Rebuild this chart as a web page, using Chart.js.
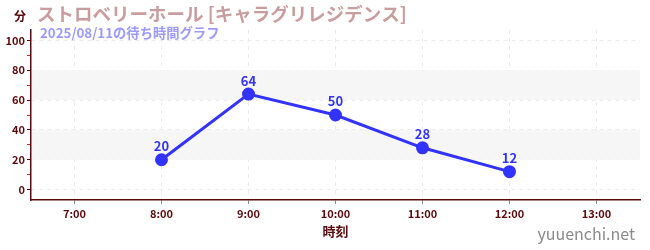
<!DOCTYPE html>
<html>
<head>
<meta charset="utf-8">
<script src="https://cdn.jsdelivr.net/npm/chart.js@4/dist/chart.umd.min.js"></script>
<style>
  html, body { margin: 0; padding: 0; background: #fff; }
  #wrap { width: 650px; height: 250px; position: relative; }
</style>
</head>
<body>
<div id="wrap"><canvas id="miGrafico"></canvas></div>
<script>
// datos del grafico
const horas = [8, 9, 10, 11, 12];
const espera = [20, 64, 50, 28, 12];
const bandas = [[20, 40], [60, 80]];
const titulo = "ストロベリーホール [キャラグリレジデンス]";
const subtitulo = "2025/08/11の待ち時間グラフ";
const unidad = "分";
const ejeX = "時刻";
const marca = "yuuenchi.net";

const fuente = "'Noto Sans CJK JP', 'Noto Sans', sans-serif";
const rojoOscuro = '#5a0a0a';

// fondo con bandas grises + textos extra
const extras = {
  id: 'extras',
  beforeDatasetsDraw(chart) {
    const { ctx, chartArea, scales } = chart;
    ctx.save();
    ctx.fillStyle = '#f6f6f6';
    bandas.forEach(b => {
      const y1 = scales.y.getPixelForValue(b[1]);
      const y0 = scales.y.getPixelForValue(b[0]);
      ctx.fillRect(chartArea.left + 1, y1, chartArea.right - chartArea.left - 1, y0 - y1);
    });
    ctx.restore();
  },
  afterDatasetsDraw(chart) {
    const { ctx } = chart;
    const meta = chart.getDatasetMeta(0);
    ctx.save();
    ctx.fillStyle = '#3333ff';
    ctx.font = 'bold 13px ' + fuente;
    ctx.textAlign = 'center';
    ctx.textBaseline = 'bottom';
    meta.data.forEach((p, i) => {
      ctx.fillText(espera[i], p.x, p.y - 7);
    });
    ctx.restore();
  },
  afterDraw(chart) {
    const { ctx } = chart;
    ctx.save();
    ctx.textBaseline = 'middle';
    ctx.fillStyle = rojoOscuro;
    ctx.font = 'bold 12px ' + fuente;
    ctx.fillText(unidad, 14, 16);
    ctx.fillStyle = '#c99d9d';
    ctx.font = 'bold 18.5px ' + fuente;
    ctx.fillText(titulo, 37, 14);
    ctx.fillStyle = '#9b9bff';
    ctx.font = 'bold 13.3px ' + fuente;
    ctx.fillText(subtitulo, 40, 33);
    ctx.fillStyle = '#8a8a8a';
    ctx.font = '16px ' + fuente;
    ctx.textAlign = 'right';
    ctx.fillText(marca, 635, 234);
    ctx.restore();
  }
};

const ctx = document.getElementById('miGrafico').getContext('2d');
const miGrafico = new Chart(ctx, {
  type: 'line',
  data: {
    datasets: [{
      data: horas.map((h, i) => ({ x: h, y: espera[i] })),
      borderColor: '#3333ff',
      backgroundColor: '#3333ff',
      borderWidth: 3,
      pointRadius: 5,
      pointHoverRadius: 5,
      tension: 0
    }]
  },
  options: {
    responsive: true,
    maintainAspectRatio: false,
    animation: false,
    layout: { padding: { top: 30, right: 10, left: 0, bottom: 0 } },
    plugins: { legend: { display: false }, tooltip: { enabled: false } },
    scales: {
      x: {
        type: 'linear',
        min: 6.5,
        max: 13.5,
        afterBuildTicks(axis) {
          axis.ticks = [7, 8, 9, 10, 11, 12, 13].map(v => ({ value: v }));
        },
        afterFit(axis) { axis.height = 50; },
        border: { color: rojoOscuro, width: 1.5, dash: [4, 4] },
        grid: {
          color: '#ececec',
          tickColor: '#888',
          tickLength: 4,
          tickBorderDash: []
        },
        ticks: {
          color: rojoOscuro,
          font: { family: fuente, size: 11, weight: 'bold' },
          padding: 3,
          maxRotation: 0,
          callback: v => v + ':00'
        },
        title: {
          display: true,
          text: ejeX,
          color: rojoOscuro,
          font: { family: fuente, size: 13, weight: 'bold' },
          padding: { top: 0, bottom: 11 }
        }
      },
      y: {
        min: -7,
        max: 107,
        afterBuildTicks(axis) {
          const t = [];
          for (let v = 0; v <= 100; v += 10) t.push({ value: v });
          axis.ticks = t;
        },
        afterFit(axis) { axis.width = 31; },
        border: { color: rojoOscuro, width: 1.5, dash: [4, 4] },
        grid: {
          color: c => (c.tick && c.tick.value % 20 === 0) ? '#ececec' : 'rgba(0,0,0,0)',
          tickColor: c => (c.tick && c.tick.value % 20 === 0) ? rojoOscuro : '#dd2222',
          tickLength: 4,
          tickBorderDash: []
        },
        ticks: {
          color: rojoOscuro,
          font: { family: fuente, size: 11, weight: 'bold' },
          padding: 2,
          autoSkip: false,
          callback: v => (v % 20 === 0 ? v : '')
        }
      }
    }
  },
  plugins: [extras]
});
</script>
</body>
</html>
